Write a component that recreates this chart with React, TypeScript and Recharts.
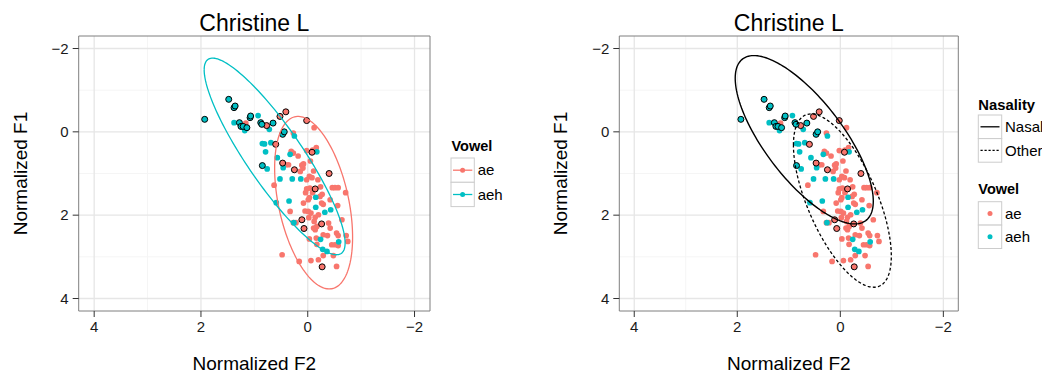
import React from "react";
import { ScatterChart, Scatter, XAxis, YAxis, CartesianGrid, ReferenceArea } from "recharts";

const FONT = "'Liberation Sans', Arial, Helvetica, sans-serif";
const RED = "#F8766D";
const TEAL = "#00BFC4";

const titleText = "Christine L";
const xTitle = "Normalized F2";
const yTitle = "Normalized F1";
const vowelLabels = ["ae", "aeh"];
const nasalityLabels = ["Nasal", "Other"];

const majorTicks = [-2, 0, 2, 4];
const minorTicks = [-1, 1, 3];
const xDomain: [number, number] = [-2.29, 4.29];
const yDomain: [number, number] = [-2.3, 4.3];

// [Normalized F2, Normalized F1]
const aehNasal = [
  [1.93, -0.3], [1.48, -0.78], [1.38, -0.58], [1.36, -0.62], [1.28, -0.22], [1.25, -0.13],
  [1.21, -0.13], [1.14, -0.1], [1.08, -0.34], [1.07, -0.38], [0.88, -0.22], [0.86, -0.18],
  [0.65, -0.21], [0.47, 0.06], [0.44, 0.0], [0.85, 0.81],
];
const aeNasal = [
  [0.77, -0.15], [0.52, -0.37], [0.41, -0.48], [0.02, -0.27], [0.6, 0.3], [-0.08, 0.49],
  [0.47, 0.75], [0.25, 0.91], [-0.4, 1.0], [-0.14, 1.37], [0.11, 2.11], [0.07, 2.32],
  [-0.26, 2.21], [-0.27, 3.24],
];
const aehOther = [
  [1.38, -0.22], [1.18, -0.03], [0.93, -0.39], [0.72, -0.06], [0.85, 0.28], [0.81, 0.29],
  [0.79, 0.48], [0.69, 0.26], [0.57, 0.62], [0.76, 0.89], [0.52, 1.13], [0.33, 0.54],
  [0.29, 1.13], [0.13, 1.13], [0.25, 0.1], [-0.17, 0.48], [-0.15, 1.57], [-0.15, 1.81],
  [-0.32, 1.93], [-0.43, 1.87], [0.59, 1.7], [0.35, 1.66], [0.26, 2.18], [-0.24, 2.58],
  [-0.28, 2.82], [-0.36, 2.87], [-0.58, 2.64], [0.46, 0.86],
];
const aeOther = [
  [1.16, -0.21], [-0.12, -0.1], [-0.09, 0.44], [-0.16, 0.38], [-0.05, 0.7], [0.41, 0.79],
  [0.11, 0.8], [0.09, 0.87], [0.14, 0.95], [0.63, 1.28], [-0.11, 0.94], [-0.03, 1.07],
  [0.02, 1.15], [-0.08, 1.1], [-0.19, 1.15], [0.02, 1.37], [-0.09, 1.46], [-0.24, 1.32],
  [-0.27, 1.5], [-0.46, 1.34], [-0.51, 1.34], [-0.57, 1.34], [-0.71, 1.46], [0.04, 1.46],
  [-0.23, 1.55], [-0.01, 1.63], [-0.29, 1.74], [-0.56, 1.77], [0.33, 1.91], [0.05, 1.9],
  [-0.01, 1.91], [-0.06, 1.95], [-0.14, 2.05], [-0.02, 2.06], [0.27, 2.18], [0.22, 2.18],
  [-0.12, 2.15], [-0.42, 2.31], [-0.54, 2.43], [-0.57, 2.49], [-0.14, 2.35], [-0.16, 2.55],
  [-0.03, 2.57], [-0.29, 2.47], [-0.37, 2.49], [-0.72, 2.49], [-0.75, 2.63], [-0.57, 2.73],
  [-0.17, 2.7], [0.48, 2.95], [0.16, 3.11], [-0.06, 3.09], [-0.2, 3.07], [-0.29, 2.97],
  [-0.48, 2.97], [-0.54, 3.23], [-0.45, 2.71], [-0.51, 2.71], [-0.42, 1.63], [0.08, 1.71],
  [-0.26, 1.71], [-0.2, 1.99], [-0.17, 2.27], [-0.11, 2.31], [-0.39, 2.19], [-0.64, 2.11],
  [-0.04, 1.35], [-0.03, 1.58], [0.18, 0.58], [0.02, 0.45], [0.27, 0.03], [0.31, 0.47],
  [0.27, 0.51], [0.36, 0.79], [0.08, 0.77],
];

// ellipse summaries: centre, half-extent in F2 and F1, correlation
const ellipseAe = { cx: -0.11, cy: 1.7, dx: 0.73, dy: 2.07, rho: -0.4 };
const ellipseAeh = { cx: 0.62, cy: 0.59, dx: 1.32, dy: 2.36, rho: -0.88 };
const ellipseNasal = { cx: 0.7, cy: 0.19, dx: 1.34, dy: 2.02, rho: -0.73 };
const ellipseOther = { cx: -0.04, cy: 1.65, dx: 0.95, dy: 2.08, rho: -0.64 };

const toPts = (arr: number[][]) => arr.map(([x, y]) => ({ x, y }));

function ellipsePts(e: { cx: number; cy: number; dx: number; dy: number; rho: number }) {
  const th = Math.acos(e.rho);
  const pts = [];
  const n = 160;
  for (let i = 0; i <= n; i++) {
    const t = (2 * Math.PI * i) / n;
    pts.push({ x: e.cx + e.dx * Math.cos(t), y: e.cy + e.dy * Math.cos(t + th) });
  }
  return pts;
}

const fmt = (v: number) => (v < 0 ? "\u2212" + Math.abs(v) : String(v));

const plainShape = (color: string) => (p: any) => (
  <circle cx={p.cx} cy={p.cy} r={2.85} fill={color} stroke="none" />
);
const outlinedShape = (color: string) => (p: any) => (
  <circle cx={p.cx} cy={p.cy} r={3} fill={color} stroke="#000" strokeWidth={1} />
);
const noShape = () => <g />;

type EllipseSpec = { pts: { x: number; y: number }[]; stroke: string; dash?: string; width: number };

function Panel(props: { width: number; marginLeft: number; marginRight: number; ellipses: EllipseSpec[] }) {
  return (
    <ScatterChart
      width={props.width}
      height={373}
      margin={{ top: 36, right: props.marginRight, bottom: 32, left: props.marginLeft }}
    >
      <CartesianGrid
        horizontalValues={minorTicks}
        verticalValues={minorTicks}
        stroke="#f5f5f5"
        strokeWidth={1}
      />
      <CartesianGrid
        horizontalValues={majorTicks}
        verticalValues={majorTicks}
        stroke="#e6e6e6"
        strokeWidth={1.3}
      />
      <XAxis
        type="number"
        dataKey="x"
        domain={xDomain}
        allowDataOverflow
        reversed
        ticks={majorTicks}
        tickFormatter={fmt}
        height={30}
        axisLine={false}
        tickSize={6}
        tickMargin={4}
        tickLine={{ stroke: "#333", strokeWidth: 1 }}
        tick={{ fill: "#1a1a1a", fontSize: 15, fontFamily: FONT }}
        interval={0}
      />
      <YAxis
        type="number"
        dataKey="y"
        domain={yDomain}
        allowDataOverflow
        reversed
        ticks={majorTicks}
        tickFormatter={fmt}
        width={40}
        axisLine={false}
        tickSize={6}
        tickMargin={4}
        tickLine={{ stroke: "#333", strokeWidth: 1 }}
        tick={{ fill: "#1a1a1a", fontSize: 15, fontFamily: FONT }}
        interval={0}
      />
      <ReferenceArea
        x1={xDomain[0]}
        x2={xDomain[1]}
        y1={yDomain[0]}
        y2={yDomain[1]}
        fill="none"
        fillOpacity={0}
        stroke="#7f7f7f"
        strokeWidth={1}
        ifOverflow="visible"
      />
      <Scatter data={toPts(aeOther)} shape={plainShape(RED)} isAnimationActive={false} />
      <Scatter data={toPts(aehOther)} shape={plainShape(TEAL)} isAnimationActive={false} />
      <Scatter data={toPts(aeNasal)} shape={outlinedShape(RED)} isAnimationActive={false} />
      <Scatter data={toPts(aehNasal)} shape={outlinedShape(TEAL)} isAnimationActive={false} />
      {props.ellipses.map((e, i) => (
        <Scatter
          key={i}
          data={e.pts}
          line={{ stroke: e.stroke, strokeWidth: e.width, strokeDasharray: e.dash, fill: "none" }}
          lineType="joint"
          shape={noShape}
          isAnimationActive={false}
        />
      ))}
    </ScatterChart>
  );
}

const txt = { fontFamily: FONT, fill: "#000" } as const;

function Overlay() {
  return (
    <svg width={1042} height={373} style={{ position: "absolute", left: 0, top: 0, pointerEvents: "none" }}>
      {/* titles */}
      <text x={254.3} y={31} textAnchor="middle" fontSize={23} style={txt}>{titleText}</text>
      <text x={788.8} y={31} textAnchor="middle" fontSize={23} style={txt}>{titleText}</text>
      <text x={254.3} y={369.5} textAnchor="middle" fontSize={19} style={txt}>{xTitle}</text>
      <text x={788.8} y={369.5} textAnchor="middle" fontSize={19} style={txt}>{xTitle}</text>
      <text transform="translate(26.5,173.5) rotate(-90)" textAnchor="middle" fontSize={19} style={txt}>{yTitle}</text>
      <text transform="translate(567,173.5) rotate(-90)" textAnchor="middle" fontSize={19} style={txt}>{yTitle}</text>

      {/* left legend: Vowel */}
      <text x={451.5} y={151} fontSize={14.5} fontWeight="bold" style={txt}>Vowel</text>
      {vowelLabels.map((lab, i) => {
        const top = 158 + i * 24.3;
        const c = i === 0 ? RED : TEAL;
        return (
          <g key={lab}>
            <rect x={451} y={top} width={23.3} height={24.3} fill="#fff" stroke="#cccccc" strokeWidth={1} />
            <line x1={453} x2={472.3} y1={top + 12.2} y2={top + 12.2} stroke={c} strokeWidth={1.3} />
            <circle cx={462.6} cy={top + 12.2} r={2.5} fill={c} />
            <text x={477.7} y={top + 17.3} fontSize={15} style={txt}>{lab}</text>
          </g>
        );
      })}

      {/* right legend: Nasality */}
      <text x={978.3} y={109.5} fontSize={14.8} fontWeight="bold" style={txt}>Nasality</text>
      {nasalityLabels.map((lab, i) => {
        const top = 115 + i * 23.6;
        return (
          <g key={lab}>
            <rect x={978.3} y={top} width={23.4} height={23.6} fill="#fff" stroke="#cccccc" strokeWidth={1} />
            <line
              x1={980.5}
              x2={999.5}
              y1={top + 11.8}
              y2={top + 11.8}
              stroke="#000"
              strokeWidth={1.3}
              strokeDasharray={i === 1 ? "2.2 1.8" : undefined}
            />
            <text x={1005} y={top + 17.2} fontSize={15} style={txt}>{lab}</text>
          </g>
        );
      })}
      {/* right legend: Vowel */}
      <text x={978.3} y={193.5} fontSize={14.5} fontWeight="bold" style={txt}>Vowel</text>
      {vowelLabels.map((lab, i) => {
        const top = 201.7 + i * 23.4;
        const c = i === 0 ? RED : TEAL;
        return (
          <g key={lab}>
            <rect x={978.3} y={top} width={23.4} height={23.4} fill="#fff" stroke="#cccccc" strokeWidth={1} />
            <circle cx={990} cy={top + 11.7} r={2.5} fill={c} />
            <text x={1005} y={top + 16.8} fontSize={15} style={txt}>{lab}</text>
          </g>
        );
      })}
    </svg>
  );
}

export default function App() {
  const leftEllipses: EllipseSpec[] = [
    { pts: ellipsePts(ellipseAe), stroke: RED, width: 1.3 },
    { pts: ellipsePts(ellipseAeh), stroke: TEAL, width: 1.3 },
  ];
  const rightEllipses: EllipseSpec[] = [
    { pts: ellipsePts(ellipseNasal), stroke: "#000", width: 1.4 },
    { pts: ellipsePts(ellipseOther), stroke: "#000", width: 1.3, dash: "3 2.2" },
  ];
  return (
    <div style={{ position: "absolute", left: 0, top: 0, width: 1042, height: 373, background: "#fff", fontFamily: FONT }}>
      <div style={{ position: "absolute", left: 0, top: 0 }}>
        <Panel width={520} marginLeft={38.7} marginRight={90} ellipses={leftEllipses} />
      </div>
      <div style={{ position: "absolute", left: 540, top: 0 }}>
        <Panel width={502} marginLeft={39.3} marginRight={83.7} ellipses={rightEllipses} />
      </div>
      <Overlay />
    </div>
  );
}
